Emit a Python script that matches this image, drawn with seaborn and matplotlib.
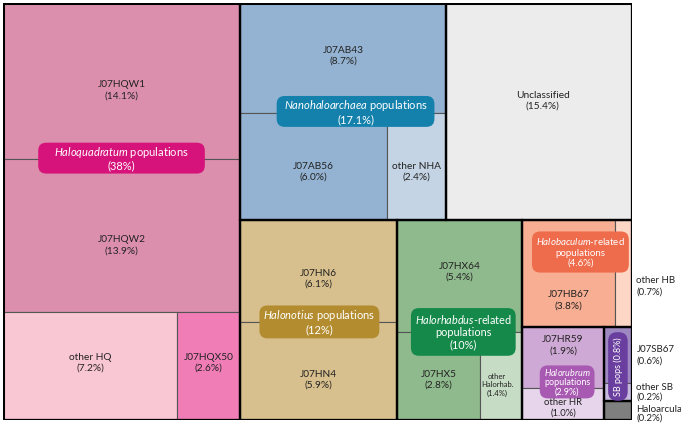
import matplotlib.pyplot as plt
import matplotlib.patches as mpatches
import matplotlib.transforms as mtransforms
import seaborn as sns

# leaf populations and their share of reads (%)
hq_names = ["J07HQW1", "J07HQW2", "other HQ", "J07HQX50"]
hq_pct = [14.1, 13.9, 7.2, 2.6]
nha_names = ["J07AB43", "J07AB56", "other NHA"]
nha_pct = [8.7, 6.0, 2.4]
unc_names = ["Unclassified"]
unc_pct = [15.4]
hn_names = ["J07HN6", "J07HN4"]
hn_pct = [6.1, 5.9]
hx_names = ["J07HX64", "J07HX5", "other Halorhab."]
hx_pct = [5.4, 2.8, 1.4]
hb_names = ["J07HB67", "other HB"]
hb_pct = [3.8, 0.7]
hr_names = ["J07HR59", "other HR"]
hr_pct = [1.9, 1.0]
sb_names = ["J07SB67", "other SB"]
sb_pct = [0.6, 0.2]
arc_names = ["Haloarcula"]
arc_pct = [0.2]

# group totals as printed on the labels
group_names = ["Haloquadratum", "Nanohaloarchaea", "Halonotius", "Halorhabdus",
               "Halobaculum", "Halorubrum", "SB"]
group_pct = [38, 17.1, 12, 10, 4.6, 2.9, 0.8]

pct = {}
for names, vals in [(hq_names, hq_pct), (nha_names, nha_pct), (unc_names, unc_pct),
                    (hn_names, hn_pct), (hx_names, hx_pct), (hb_names, hb_pct),
                    (hr_names, hr_pct), (sb_names, sb_pct), (arc_names, arc_pct)]:
    pct.update(dict(zip(names, vals)))
gpct = dict(zip(group_names, group_pct))

# nested slice layout: (name, direction, children); strings are leaves
tree = ("root", "h", [
    ("Haloquadratum", "v", ["J07HQW1", "J07HQW2", ("hq_low", "h", ["other HQ", "J07HQX50"])]),
    ("rest", "v", [
        ("top", "h", [
            ("Nanohaloarchaea", "v", ["J07AB43", ("nha_low", "h", ["J07AB56", "other NHA"])]),
            "Unclassified"]),
        ("bottom", "h", [
            ("Halonotius", "v", ["J07HN6", "J07HN4"]),
            ("Halorhabdus", "v", ["J07HX64", ("hx_low", "h", ["J07HX5", "other Halorhab."])]),
            ("right", "v", [
                ("Halobaculum", "h", ["J07HB67", "other HB"]),
                ("right_low", "h", [
                    ("Halorubrum", "v", ["J07HR59", "other HR"]),
                    ("sb_col", "v", [("SB", "v", ["J07SB67", "other SB"]), "Haloarcula"])])])])])])


def size(node):
    if isinstance(node, str):
        return pct[node]
    return sum(size(c) for c in node[2])


def layout(node, x, y, w, h, out):
    if isinstance(node, str):
        out[node] = (x, y, w, h)
        return
    name, kind, children = node
    out[name] = (x, y, w, h)
    total = size(node)
    for c in children:
        f = size(c) / total
        if kind == "h":
            layout(c, x, y, w * f, h, out)
            x += w * f
        else:
            layout(c, x, y, w, h * f, out)
            y += h * f


rects = {}
layout(tree, 0, 0, 1, 1, rects)

leaf_colors = {
    "J07HQW1": "#DC8FAD", "J07HQW2": "#DC8FAD", "other HQ": "#F9C6D3", "J07HQX50": "#F17DB7",
    "J07AB43": "#94B3D2", "J07AB56": "#94B3D2", "other NHA": "#C4D4E5",
    "Unclassified": "#ECECEC",
    "J07HN6": "#D8BF8E", "J07HN4": "#D8BF8E",
    "J07HX64": "#8FBA8D", "J07HX5": "#8FBA8D", "other Halorhab.": "#C6DCC4",
    "J07HB67": "#F8AE93", "other HB": "#FDD6C6",
    "J07HR59": "#CFA9D5", "other HR": "#E7D5EB",
    "J07SB67": "#9D88C1", "other SB": "#C6B9DE",
    "Haloarcula": "#7F7F7F",
}
group_colors = {
    "Haloquadratum": "#D6137B", "Nanohaloarchaea": "#1381AC", "Halonotius": "#B38C30",
    "Halorhabdus": "#15894A", "Halobaculum": "#EE6B4B", "Halorubrum": "#A85AB2", "SB": "#6A3E9E",
}
thick = group_names + ["Unclassified", "Haloarcula"]

# where leaf text sits inside its cell (fractions)
leaf_text = {
    "J07HQW1": (0.5, 0.56), "J07HQW2": (0.5, 0.565), "other HQ": (0.5, 0.47),
    "J07HQX50": (0.5, 0.47), "J07AB43": (0.5, 0.48), "J07AB56": (0.5, 0.55),
    "other NHA": (0.5, 0.55), "Unclassified": (0.52, 0.45), "J07HN6": (0.5, 0.58),
    "J07HN4": (0.5, 0.59), "J07HX64": (0.5, 0.46), "J07HX5": (0.5, 0.54),
    "other Halorhab.": (0.4, 0.6), "J07HB67": (0.5, 0.75), "J07HR59": (0.5, 0.30),
    "other HR": (0.5, 0.62),
}
# texts to the right of the map: vertical fraction of the cell, line spacing
outside_text = {"other HB": (0.62, 1.35), "J07SB67": (0.5, 1.35),
                "other SB": (0.5, 1.0), "Haloarcula": (0.66, 1.0)}

# group label: centre (fractions of group box), text, font size, pads in px, line spacing
group_text = {
    "Haloquadratum": (0.5, 0.372, "$\\mathit{Haloquadratum}$ populations", 8, 16, 2, 1.1),
    "Nanohaloarchaea": (0.56, 0.50, "$\\mathit{Nanohaloarchaea}$ populations", 8, 7, 2, 1.1),
    "Halonotius": (0.506, 0.51, "$\\mathit{Halonotius}$ populations", 8, 4, 3, 1.1),
    "Halorhabdus": (0.53, 0.56, "$\\mathit{Halorhabdus}$-related\npopulations", 7.8, 4, 5, 1.15),
    "Halobaculum": (0.53, 0.30, "$\\mathit{Halobaculum}$-related\npopulations", 7, 4, 5, 1.15),
    "Halorubrum": (0.55, 0.59, "$\\mathit{Halorubrum}$\npopulations", 6.5, 4, 2, 1.0),
}

sns.set_theme(style="white")
plt.rcParams["font.family"] = ["Lato", "DejaVu Sans"]
plt.rcParams["mathtext.fontset"] = "custom"
plt.rcParams["mathtext.rm"] = "Lato"
plt.rcParams["mathtext.it"] = "Lato:italic"

fig = plt.figure(figsize=(6.81, 4.26), dpi=100)
ax = fig.add_axes([3 / 681, 6 / 426, 629 / 681, 417 / 426])
ax.set_xlim(0, 1)
ax.set_ylim(1, 0)
ax.axis("off")

for name, col in leaf_colors.items():
    x, y, w, h = rects[name]
    ax.add_patch(mpatches.Rectangle((x, y), w, h, facecolor=col, edgecolor="#555555", lw=0.8))

for name in thick:
    x, y, w, h = rects[name]
    ax.add_patch(mpatches.Rectangle((x, y), w, h, facecolor="none", edgecolor="black", lw=1.6, zorder=3))
ax.add_patch(mpatches.Rectangle((0, 0), 1, 1, facecolor="none", edgecolor="black", lw=2.2, zorder=3))

for name, (fx, fy) in leaf_text.items():
    x, y, w, h = rects[name]
    label = f"{name}\n({pct[name]:.1f}%)"
    fs = 7.3
    if name == "other Halorhab.":
        label = f"other\nHalorhab.\n({pct[name]:.1f}%)"
        fs = 5.5
    elif name == "other HR":
        fs = 6.8
    ax.text(x + fx * w, y + fy * h, label, ha="center", va="center", fontsize=fs,
            color="#222222", linespacing=1.3 if fs > 6 else 1.2, zorder=7)

for name, (fy, ls) in outside_text.items():
    x, y, w, h = rects[name]
    ax.text(1.007, y + fy * h, f"{name}\n({pct[name]:.1f}%)", ha="left", va="center",
            fontsize=7, color="#222222", linespacing=ls, clip_on=False, zorder=4)

fig.canvas.draw()
renderer = fig.canvas.get_renderer()
ident = mtransforms.IdentityTransform()
for name, (fx, fy, txt, fs, hp, vp, ls) in group_text.items():
    x, y, w, h = rects[name]
    t = ax.text(x + fx * w, y + fy * h, f"{txt}\n({gpct[name]:g}%)", ha="center", va="center",
                fontsize=fs, color="white", linespacing=ls, zorder=6)
    bb = t.get_window_extent(renderer)
    ax.add_patch(mpatches.FancyBboxPatch((bb.x0 - hp, bb.y0 - vp), bb.width + 2 * hp, bb.height + 2 * vp,
                                         boxstyle="round,pad=0,rounding_size=8", transform=ident,
                                         facecolor=group_colors[name], edgecolor="none", zorder=5))

# SB populations label, rotated pill
x, y, w, h = rects["SB"]
t = ax.text(x + 0.5 * w, y + 0.53 * h, f"SB pops ({gpct['SB']:g}%)", rotation=90, ha="center",
            va="center", fontsize=6.5, color="white", zorder=6)
fig.canvas.draw()
bb = t.get_window_extent(fig.canvas.get_renderer())
ax.add_patch(mpatches.FancyBboxPatch((bb.x0 - 5, bb.y0 - 5), bb.width + 10, bb.height + 10,
                                     boxstyle="round,pad=0,rounding_size=9", transform=ident,
                                     facecolor=group_colors["SB"], edgecolor="none", zorder=5))

fig.savefig("out.png", dpi=100)
